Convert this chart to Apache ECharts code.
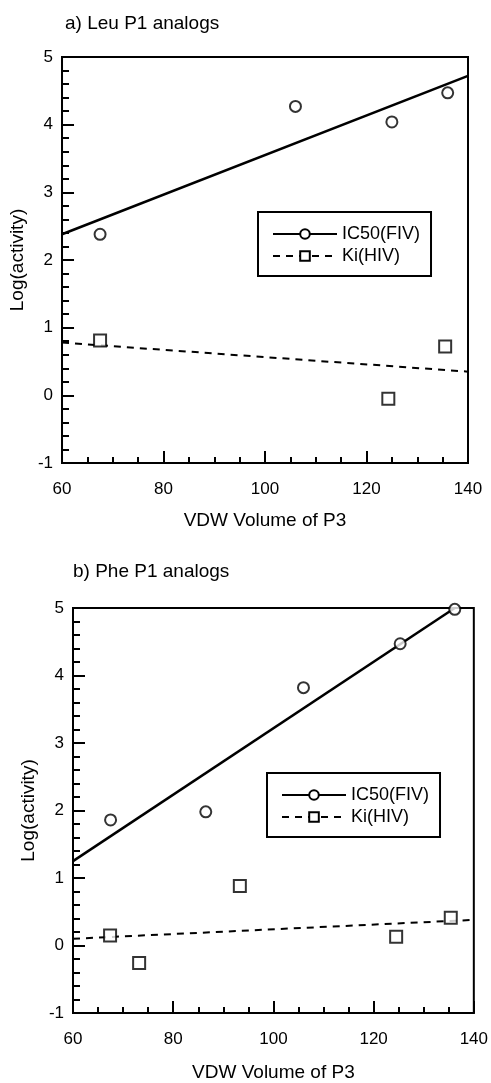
<!DOCTYPE html>
<html>
<head>
<meta charset="utf-8">
<script src="https://cdn.jsdelivr.net/npm/echarts@6/dist/echarts.min.js"></script>
<style>
  html, body { margin: 0; padding: 0; background: #fff; }
  #box { width: 491px; height: 1083px; }
</style>
</head>
<body>
<div id="box"></div>
<script>
// a) Leu P1 analogs
var leuIC50 = [[67.5, 2.38], [106, 4.27], [125, 4.04], [136, 4.47]];
var leuKi = [[67.5, 0.81], [124.3, -0.05], [135.5, 0.72]];
var leuIC50Fit = [[60, 2.38], [140, 4.72]];
var leuKiFit = [[60, 0.78], [140, 0.35]];

// b) Phe P1 analogs
var pheIC50 = [[67.5, 1.86], [86.5, 1.98], [106, 3.82], [125.3, 4.47], [136.2, 4.98]];
var pheKi = [[67.4, 0.15], [73.2, -0.26], [93.3, 0.88], [124.5, 0.13], [135.4, 0.41]];
var pheIC50Fit = [[60, 1.25], [136.2, 5.0]];
var pheKiFit = [[60, 0.1], [140, 0.38]];

var xTicks = [60, 80, 100, 120, 140];
var yTicks = [-1, 0, 1, 2, 3, 4, 5];

var font = 'Liberation Sans, Arial, sans-serif';

var myChart = echarts.init(document.getElementById('box'));

function xAxisFor(i, gap){
    return {
        type: 'value', gridIndex: i, min: xTicks[0], max: xTicks[xTicks.length - 1], interval: 20,
        name: 'VDW Volume of P3', nameLocation: 'middle', nameGap: gap,
        nameTextStyle: {color: '#000', fontSize: 19, fontFamily: font},
        axisLine: {onZero: false, lineStyle: {color: '#000', width: 2}},
        axisTick: {inside: true, length: 12, lineStyle: {color: '#000', width: 2}},
        minorTick: {show: true, splitNumber: 4, length: 6, lineStyle: {color: '#000', width: 2}},
        axisLabel: {color: '#000', fontSize: 17, fontFamily: font, margin: 18},
        splitLine: {show: false}
    };
}

function yAxisFor(i, gap){
    return {
        type: 'value', gridIndex: i, min: yTicks[0], max: yTicks[yTicks.length - 1], interval: 1,
        name: 'Log(activity)', nameLocation: 'middle', nameGap: gap,
        nameTextStyle: {color: '#000', fontSize: 19, fontFamily: font},
        axisLine: {onZero: false, lineStyle: {color: '#000', width: 2}},
        axisTick: {inside: true, length: 12, lineStyle: {color: '#000', width: 2}},
        minorTick: {show: true, splitNumber: 5, length: 7, lineStyle: {color: '#000', width: 2}},
        axisLabel: {color: '#000', fontSize: 17, fontFamily: font, margin: 9},
        splitLine: {show: false}
    };
}

function pts(name, data, i, symbol){
    return {
        name: name, type: 'scatter', xAxisIndex: i, yAxisIndex: i, data: data,
        symbol: symbol, symbolSize: symbol == 'circle' ? 11 : 12,
        itemStyle: {color: '#fff', borderColor: '#000', borderWidth: 2},
        emphasis: {disabled: true},
        z: 3
    };
}

function fit(name, data, i, type, symbol){
    return {
        name: name, type: 'line', xAxisIndex: i, yAxisIndex: i, data: data,
        symbol: symbol, symbolSize: 10, showSymbol: false,
        itemStyle: {color: '#fff', borderColor: '#000', borderWidth: 2},
        lineStyle: {color: '#000', width: type == 'solid' ? 2.5 : 2, type: type == 'solid' ? 'solid' : [7, 6]},
        emphasis: {disabled: true},
        silent: true, z: 2
    };
}

function legendFor(left, top){
    return {
        left: left, top: top, orient: 'vertical', itemGap: 4, itemWidth: 64, itemHeight: 12,
        padding: [13, 11, 11, 14], borderColor: '#000', borderWidth: 2,
        data: ['IC50(FIV)', 'Ki(HIV)'],
        itemStyle: {color: '#fff', borderColor: '#000', borderWidth: 2},
        textStyle: {color: '#000', fontSize: 18, fontFamily: font, padding: [0, 0, 0, 0]},
        selectedMode: false
    };
}

option = {
    backgroundColor: '#fff',
    animation: false,
    title: [
        {text: 'a) Leu P1 analogs', left: 60, top: 9, textStyle: {color: '#000', fontSize: 19, fontWeight: 'normal', fontFamily: font}},
        {text: 'b) Phe P1 analogs', left: 68, top: 557, textStyle: {color: '#000', fontSize: 19, fontWeight: 'normal', fontFamily: font}}
    ],
    grid: [
        {left: 61, right: 23, top: 57, height: 406, show: true, borderColor: '#000', borderWidth: 2, backgroundColor: 'transparent'},
        {left: 73, right: 17, top: 608, height: 408, show: true, borderColor: '#000', borderWidth: 2, backgroundColor: 'transparent'}
    ],
    xAxis: [xAxisFor(0, 48), xAxisFor(1, 50)],
    yAxis: [yAxisFor(0, 34), yAxisFor(1, 35)],
    legend: [legendFor(258, 212), legendFor(267, 773)],
    series: [
        fit('IC50(FIV)', leuIC50Fit, 0, 'solid', 'circle'),
        fit('Ki(HIV)', leuKiFit, 0, 'dashed', 'rect'),
        pts('IC50(FIV)', leuIC50, 0, 'circle'),
        pts('Ki(HIV)', leuKi, 0, 'rect'),
        fit('IC50(FIV)', pheIC50Fit, 1, 'solid', 'circle'),
        fit('Ki(HIV)', pheKiFit, 1, 'dashed', 'rect'),
        pts('IC50(FIV)', pheIC50, 1, 'circle'),
        pts('Ki(HIV)', pheKi, 1, 'rect')
    ]
};

myChart.setOption(option);
</script>
</body>
</html>
